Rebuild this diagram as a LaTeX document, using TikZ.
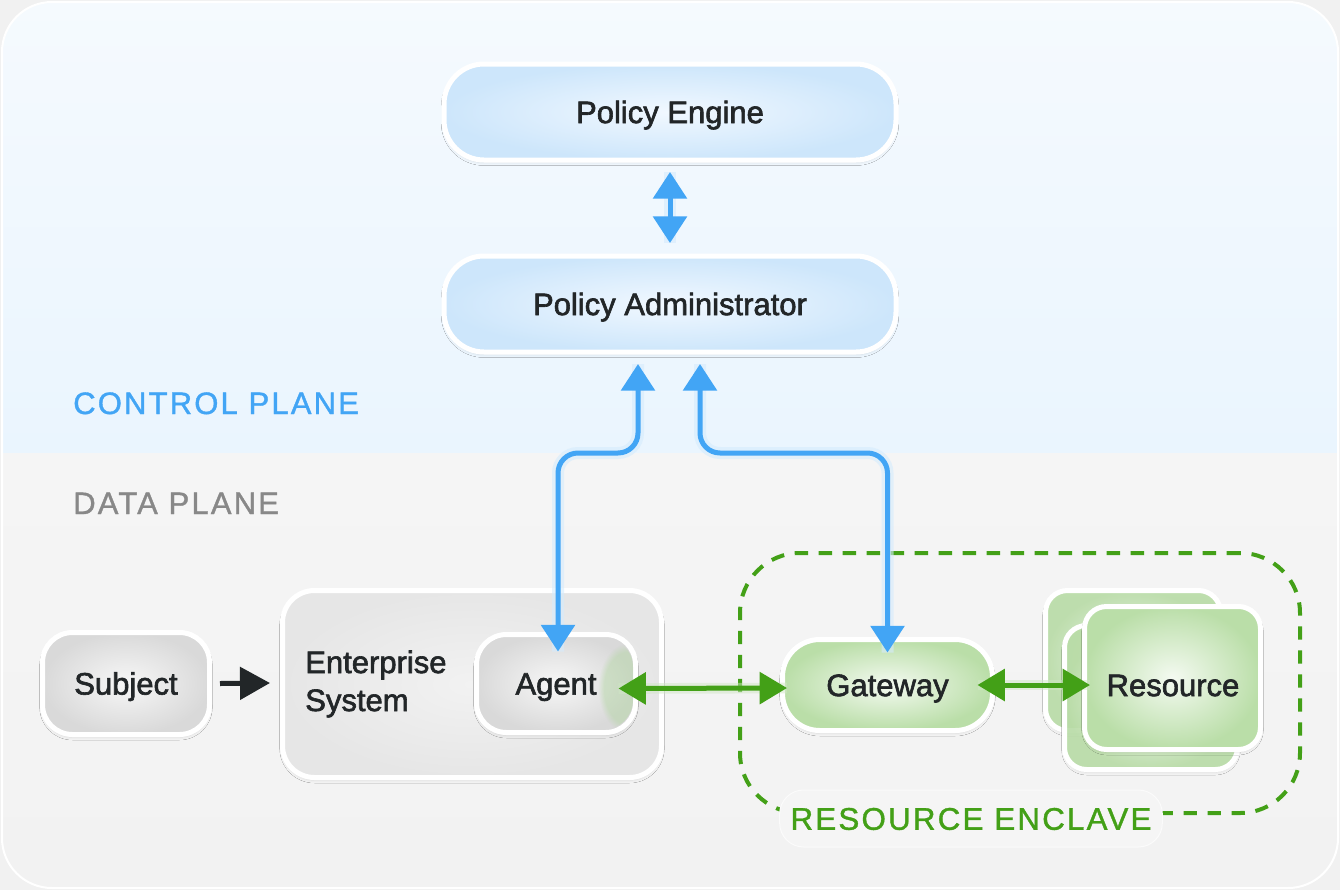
\documentclass[tikz,border=0pt]{standalone}
\usepackage{fontspec}
\setmainfont{Liberation Sans}
\newfontfamily\lblfont[FakeBold=2]{Liberation Sans}
\newfontfamily\capsfont[LetterSpace=7,FakeBold=1.2]{Liberation Sans}
\usetikzlibrary{arrows.meta,calc,shadows.blur,fadings}
\definecolor{cpblue}{HTML}{42A5F5}
\definecolor{dpgreen}{HTML}{43A017}
\definecolor{ink}{HTML}{222628}
\definecolor{dgray}{HTML}{888888}
\definecolor{bluebox}{HTML}{CDE6FB}
\definecolor{blueboxin}{HTML}{F1F8FF}
\definecolor{graybox}{HTML}{D9D9D9}
\definecolor{grayboxin}{HTML}{F7F7F7}
\definecolor{entbox}{HTML}{E6E6E6}
\definecolor{entboxin}{HTML}{F2F2F2}
\definecolor{greenbox}{HTML}{BADEA8}
\definecolor{greenboxin}{HTML}{F4FAF1}
\definecolor{cptop}{HTML}{F5FAFE}
\definecolor{cpbot}{HTML}{EAF5FE}
\definecolor{dpbg}{HTML}{F5F5F5}
\definecolor{dpbot}{HTML}{F2F2F2}
\definecolor{outside}{HTML}{F1F1F1}
\tikzset{
  box/.style={draw=white, line width=3.75pt, shading=radial, outer sep=0pt, inner sep=0pt,
    font=\lblfont\fontsize{23.25}{28}\selectfont, text=ink,
    text height=16.6pt, text depth=0pt,
    blur shadow={shadow blur steps=6, shadow xshift=0pt, shadow yshift=-2pt, shadow opacity=10}},
  bluebx/.style={box, inner color=blueboxin, outer color=bluebox, rounded corners=30pt,
    minimum width=339pt, minimum height=72pt},
  graybx/.style={box, inner color=grayboxin, outer color=graybox, rounded corners=22.5pt},
  greenbx/.style={box, inner color=greenboxin, outer color=greenbox},
  bluearr/.style={cpblue, line width=3.75pt, rounded corners=15pt,
    {Triangle[length=20pt,width=25pt]}-{Triangle[length=20pt,width=25pt]},
    preaction={draw=cpblue!22, line width=9pt, -, opacity=0.6}},
  greenarr/.style={dpgreen, line width=3.75pt,
    {Triangle[length=20.5pt,width=23.5pt]}-{Triangle[length=20.5pt,width=23.5pt]},
    preaction={draw=dpgreen!25, line width=8pt, -, opacity=0.5}},
  darkarr/.style={ink, line width=3.75pt, -{Triangle[length=22.5pt,width=24pt]}},
  planelbl/.style={font=\capsfont\fontsize{23.25}{28}\selectfont, anchor=base west, inner sep=0pt}
}
\begin{document}
\begin{tikzpicture}[x=0.75pt, y=-0.75pt]
\useasboundingbox (0,0) rectangle (1340,890);
\fill[outside] (0,0) rectangle (1340,890);
\begin{scope}
  \path[clip, rounded corners=37.5pt] (2,2) rectangle (1338,888);
  \shade[top color=cptop, bottom color=cpbot] (0,0) rectangle (1340,453);
  \shade[top color=dpbg, bottom color=dpbot] (0,453) rectangle (1340,890);
\end{scope}
\draw[white, line width=1.5pt, rounded corners=37.5pt] (2,2) rectangle (1338,888);

% plane labels
\node[planelbl, text=cpblue] (cplabel) at (73,414) {CONTROL PLANE};
\node[planelbl, text=dgray] (dplabel) at (73,514) {DATA PLANE};

% control plane nodes
\node[bluebx] (PE) at (670,112) {Policy Engine};
\node[bluebx] (PA) at (670,304) {Policy Administrator};

% resource enclave
\node[draw=dpgreen, line width=3pt, dash pattern=on 10pt off 8pt, rounded corners=45pt,
      minimum width=420pt, minimum height=195pt, inner sep=0pt] (enclave) at (1020,683) {};
\node[fill=dpbg, draw=white!60!dpbg, line width=0.75pt, rounded corners=18pt,
      minimum width=287pt, minimum height=42.75pt, inner sep=0pt,
      font=\capsfont\fontsize{23.5}{28}\selectfont, text=dpgreen,
      text height=16.9pt, text depth=0pt] (enclavelbl) at (971,818.5) {RESOURCE ENCLAVE};

% data plane nodes
\node[graybx, minimum width=125.25pt, minimum height=76.5pt] (Subject) at (126,683.5) {Subject};
\node[box, inner color=entboxin, outer color=entbox, rounded corners=24pt,
      minimum width=284.25pt, minimum height=140.25pt] (Ent) at (472,684) {};
\node[anchor=west, align=left, inner sep=0pt, font=\lblfont\fontsize{23.25}{28.5}\selectfont,
      text=ink] (EntText) at (305,684) {Enterprise\\System};
\node[graybx, minimum width=119.25pt, minimum height=73.5pt] (Agent) at (556,683.5) {Agent};
\begin{scope}
  \clip[rounded corners=22.5pt] ($(Agent.south west)+(2.5,-2.5)$) rectangle ($(Agent.north east)+(-2.5,2.5)$);
  \fill[dpgreen!45, opacity=0.4, path fading=circle with fuzzy edge 20 percent]
    (628,688) ellipse [x radius=30, y radius=45];
\end{scope}
\node[greenbx, rounded corners=28pt, minimum width=157.5pt, minimum height=68.25pt] (Gateway) at (887.5,685) {Gateway};

\node[greenbx, rounded corners=16.5pt, minimum width=131.25pt, minimum height=105pt, fill opacity=0.9] (Back1) at (1133,660.5) {};
\node[greenbx, rounded corners=16.5pt, minimum width=129.75pt, minimum height=108pt, fill opacity=0.9] (Back2) at (1151,697.5) {};
\node[greenbx, rounded corners=16.5pt, minimum width=132pt, minimum height=107.25pt] (Front) at (1172.5,678) {};
\node[font=\lblfont\fontsize{23.25}{28}\selectfont, text=ink, inner sep=0pt,
      text height=16.6pt, text depth=0pt] (Resource) at (1173,685) {Resource};

% connectors
\coordinate (busY) at (0,453);
\coordinate (aTop) at ($(Agent.north)+(2,0)$);
\coordinate (gTop) at (Gateway.north);
\draw[bluearr] ($(PE.south)+(0,12)$) -- ($(PA.north)+(0,-13)$);
\draw[bluearr] ($(PA.south)+(-32,12)$) |- (aTop |- busY) -- ($(aTop)+(0,17)$);
\draw[bluearr] ($(PA.south)+(30,12)$) |- (gTop |- busY) -- ($(gTop)+(0,13)$);
\draw[darkarr] ($(Subject.east)+(10.5,0)$) -- ($(Ent.west)+(-12.5,-1)$);
\draw[greenarr] ($(Agent.east)+(-17,5)$) -- ($(Gateway.west)+(4.5,3)$);
\draw[greenarr] ($(Gateway.east)+(-15,0)$) -- ($(Front.west)+(5.5,7)$);
\end{tikzpicture}
\end{document}
